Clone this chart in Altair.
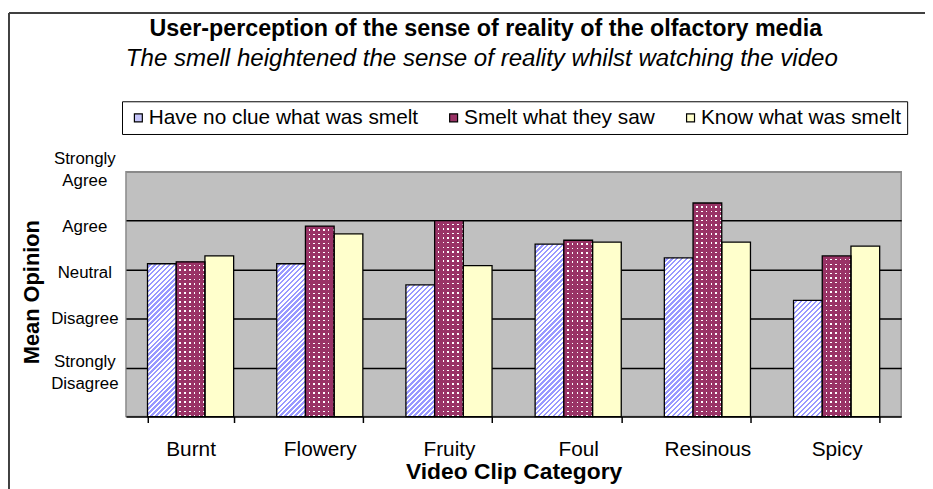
import json
import altair as alt

# ---------------- data ----------------
categories = ["Burnt", "Flowery", "Fruity", "Foul", "Resinous", "Spicy"]
groups = ["Have no clue what was smelt", "Smelt what they saw", "Know what was smelt"]
no_clue = [3.12, 3.12, 2.69, 3.52, 3.24, 2.37]
smelt_saw = [3.16, 3.89, 4.00, 3.60, 4.36, 3.28]
know_smelt = [3.28, 3.73, 3.08, 3.56, 3.56, 3.48]
levels = [1, 2, 3, 4, 5]
level_labels = [["Strongly", "Disagree"], ["Disagree"], ["Neutral"], ["Agree"], ["Strongly", "Agree"]]

title_text = "User-perception of the sense of reality of the olfactory media"
subtitle_text = "The smell heightened the sense of reality whilst watching the video"
x_title = "Video Clip Category"
y_title = "Mean Opinion"

# ---------------- style ----------------
W, H = 782, 247
YMAX = 5
FONT = "Liberation Sans"
BLUE = "#9999FF"
PLUM = "#993366"
CREAM = "#FFFFCC"
WHITE = "#FFFFFF"
CLEAR = "rgba(0,0,0,0)"
legend_colors = ["#C4C4FA", PLUM, CREAM]

step = W / len(categories)
band = step * (2 / 3)
bar_w = band / len(groups)


def stripe_gradient(c1, c2, n, frac, x2, y2):
    stops = []
    n = max(1, n)
    for i in range(n):
        a = round(i / n, 5)
        b = round((i + frac) / n, 5)
        c = round((i + 1) / n, 5)
        stops += [
            {"offset": a, "color": c1},
            {"offset": b, "color": c1},
            {"offset": b, "color": c2},
            {"offset": c, "color": c2},
        ]
    return {"gradient": "linear", "x1": 0, "y1": 0, "x2": x2, "y2": y2, "stops": stops}


def diag_fill(v):
    h = max(v * H / YMAX, 1.0)
    w = bar_w
    L = w + h
    k = L / (w * w + h * h)
    return stripe_gradient(WHITE, BLUE, round(L / 5.0), 0.5, w * k, h * k)


def rows_fill(v):
    h = max(v * H / YMAX, 1.0)
    return stripe_gradient(PLUM, WHITE, round(h / 4.6), 0.68, 0, 1)


def cols_fill():
    return stripe_gradient(PLUM, CLEAR, round(bar_w / 4.6), 0.68, 1, 0)


records = []
for series, vals in zip(groups, [no_clue, smelt_saw, know_smelt]):
    for cat, v in zip(categories, vals):
        if series == groups[0]:
            g1, g2 = diag_fill(v), CLEAR
        elif series == groups[1]:
            g1, g2 = rows_fill(v), cols_fill()
        else:
            g1, g2 = CREAM, CLEAR
        records.append({"cat": cat, "grp": series, "val": v, "g1": g1, "g2": g2})

label_expr = ""
for lv, lab in zip(levels, level_labels):
    label_expr += f"datum.value == {lv} ? {json.dumps(lab)} : "
label_expr += "''"

label_shift = {
    "condition": [
        {"test": "datum.value === 5", "value": -13},
        {"test": "datum.value === 4", "value": 6},
        {"test": "datum.value === 3", "value": 3},
        {"test": "datum.value === 1", "value": -6},
    ],
    "value": 0,
}

x_axis = alt.Axis(
    title=x_title, titleFont=FONT, titleFontSize=23, titleFontWeight="bold", titleColor="black",
    titleY=56, titleBaseline="middle",
    labelFont=FONT, labelFontSize=21, labelColor="black", labelAngle=0, labelPadding=16,
    domainColor="black", domainWidth=1.5, tickColor="black", tickWidth=1.5, tickSize=6,
    tickBand="extent", grid=False,
)
y_axis = alt.Axis(
    values=levels, labelExpr=label_expr,
    title=y_title, titleFont=FONT, titleFontSize=22, titleFontWeight="bold", titleColor="black",
    titleAngle=270, titleX=-95, titleY=121, titleAlign="center", titleBaseline="middle",
    labelFont=FONT, labelFontSize=17, labelColor="black", labelAlign="center",
    labelBaseline="middle", labelPadding=42, labelLineHeight=22, labelOffset=label_shift,
    domain=False, ticks=False, tickSize=0,
    grid=True, gridWidth=1.5,
    gridColor={"condition": {"test": "datum.value === 5", "value": "#8a8a8a"}, "value": "#000000"},
)

base = alt.Chart(alt.Data(values=records)).encode(
    x=alt.X("cat:N", sort=categories,
            scale=alt.Scale(domain=categories, paddingInner=1 / 3, paddingOuter=1 / 6),
            axis=x_axis),
    xOffset=alt.XOffset("grp:N", sort=groups,
                        scale=alt.Scale(domain=groups, paddingInner=0, paddingOuter=0)),
    y=alt.Y("val:Q", scale=alt.Scale(domain=[0, YMAX], nice=False, zero=True), axis=y_axis),
)

legend_layer = base.mark_bar().encode(
    color=alt.Color(
        "grp:N", sort=groups,
        scale=alt.Scale(domain=groups, range=legend_colors),
        legend=alt.Legend(
            orient="none", legendX=-4, legendY=-71, direction="horizontal", title=None,
            strokeColor="black", fillColor="white", padding=6, symbolOffset=0,
            symbolType="square", symbolSize=64, symbolStrokeColor="black",
            symbolStrokeWidth=1.2, symbolOpacity=1,
            labelFont=FONT, labelFontSize=21, labelColor="black", labelOffset=0,
            columnPadding=25, labelLimit=400,
        ),
    )
)
fill_layer = base.mark_bar().encode(fill=alt.Fill("g1:N", scale=None))
overlay_layer = base.mark_bar(stroke="black", strokeWidth=1.3).encode(
    fill=alt.Fill("g2:N", scale=None)
)

one = alt.Data(values=[{"k": 0}])
title_mark = alt.Chart(one).mark_text(
    text=title_text, font=FONT, fontSize=23.5, fontWeight="bold", color="black",
    align="center", baseline="middle",
).encode(x=alt.value(363), y=alt.value(-144))
subtitle_mark = alt.Chart(one).mark_text(
    text=subtitle_text, font=FONT, fontSize=24.3, fontStyle="italic", color="black",
    align="center", baseline="middle",
).encode(x=alt.value(359), y=alt.value(-114))
frame_top = alt.Chart(one).mark_rule(color="#404040", strokeWidth=2).encode(
    x=alt.value(-118), x2=alt.value(W + 40), y=alt.value(-160)
)
frame_left = alt.Chart(one).mark_rule(color="#404040", strokeWidth=2).encode(
    x=alt.value(-118), y=alt.value(-160), y2=alt.value(H + 90)
)

chart = alt.layer(
    legend_layer, fill_layer, overlay_layer, title_mark, subtitle_mark, frame_top, frame_left
).resolve_scale(fill="independent").properties(
    width=W, height=H,
    autosize=alt.AutoSizeParams(type="none"),
    padding={"left": 119, "top": 163, "right": 24, "bottom": 71},
    background="white",
).configure_view(fill="#C0C0C0", stroke="#8a8a8a", strokeWidth=1.5)

chart.save("out.html", embed_options={"renderer": "svg", "actions": False})
